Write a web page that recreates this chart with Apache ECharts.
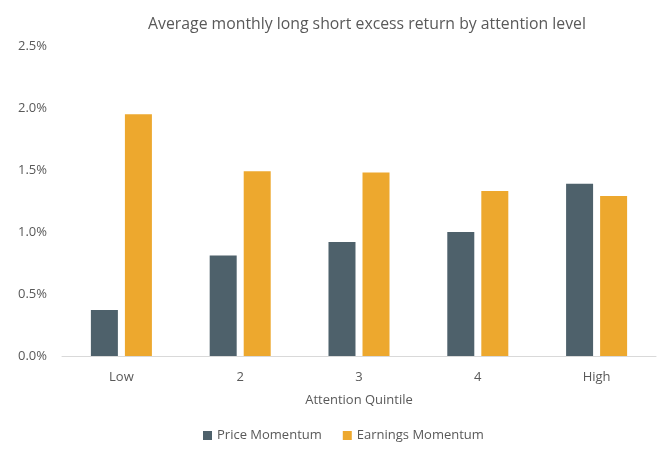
<!DOCTYPE html>
<html><head><meta charset="utf-8">
<script src="https://cdn.jsdelivr.net/npm/echarts@6/dist/echarts.min.js"></script>
<style>html,body{margin:0;padding:0;background:#fff}#c{width:669px;height:457px}</style>
</head><body><div id="c"></div>
<script>
const categories = ['Low', '2', '3', '4', 'High'];
const priceMomentum = [0.37, 0.81, 0.92, 1.00, 1.39];
const earningsMomentum = [1.95, 1.49, 1.48, 1.33, 1.29];
const seriesNames = ['Price Momentum', 'Earnings Momentum'];
const FONT = '"Open Sans", sans-serif';
const TXT = '#595959';
const chart = echarts.init(document.getElementById('c'), null, {renderer: 'canvas'});
chart.setOption({
  animation: false,
  textStyle: {fontFamily: FONT},
  title: {
    text: 'Average monthly long short excess return by attention level',
    left: 362, top: 11, textAlign: 'center',
    textStyle: {fontFamily: FONT, fontSize: 15.8, fontWeight: 'normal', color: TXT}
  },
  legend: {
    data: seriesNames, bottom: 10, left: 198,
    itemWidth: 9, itemHeight: 9, itemGap: 21, icon: 'rect',
    textStyle: {fontFamily: FONT, fontSize: 13, color: TXT}
  },
  grid: {left: 62, right: 13, top: 46, bottom: 101, containLabel: false},
  xAxis: {
    type: 'category', data: categories,
    name: 'Attention Quintile', nameLocation: 'middle', nameGap: 38,
    nameTextStyle: {fontFamily: FONT, fontSize: 13, color: TXT},
    axisLine: {lineStyle: {color: '#D9D9D9', width: 1}},
    axisTick: {show: false},
    axisLabel: {fontFamily: FONT, fontSize: 13, color: TXT, margin: 15}
  },
  yAxis: {
    type: 'value', min: 0, max: 2.5, interval: 0.5,
    splitLine: {show: false}, axisLine: {show: false}, axisTick: {show: false},
    axisLabel: {fontFamily: FONT, fontSize: 13, color: TXT, margin: 15,
      formatter: v => v.toFixed(1) + '%'}
  },
  series: [
    {name: seriesNames[0], type: 'bar', data: priceMomentum, barWidth: 27, barGap: '26%',
     itemStyle: {color: '#4E616B'}},
    {name: seriesNames[1], type: 'bar', data: earningsMomentum, barWidth: 27, barGap: '26%',
     itemStyle: {color: '#EDA82E'}}
  ]
});
</script></body></html>
